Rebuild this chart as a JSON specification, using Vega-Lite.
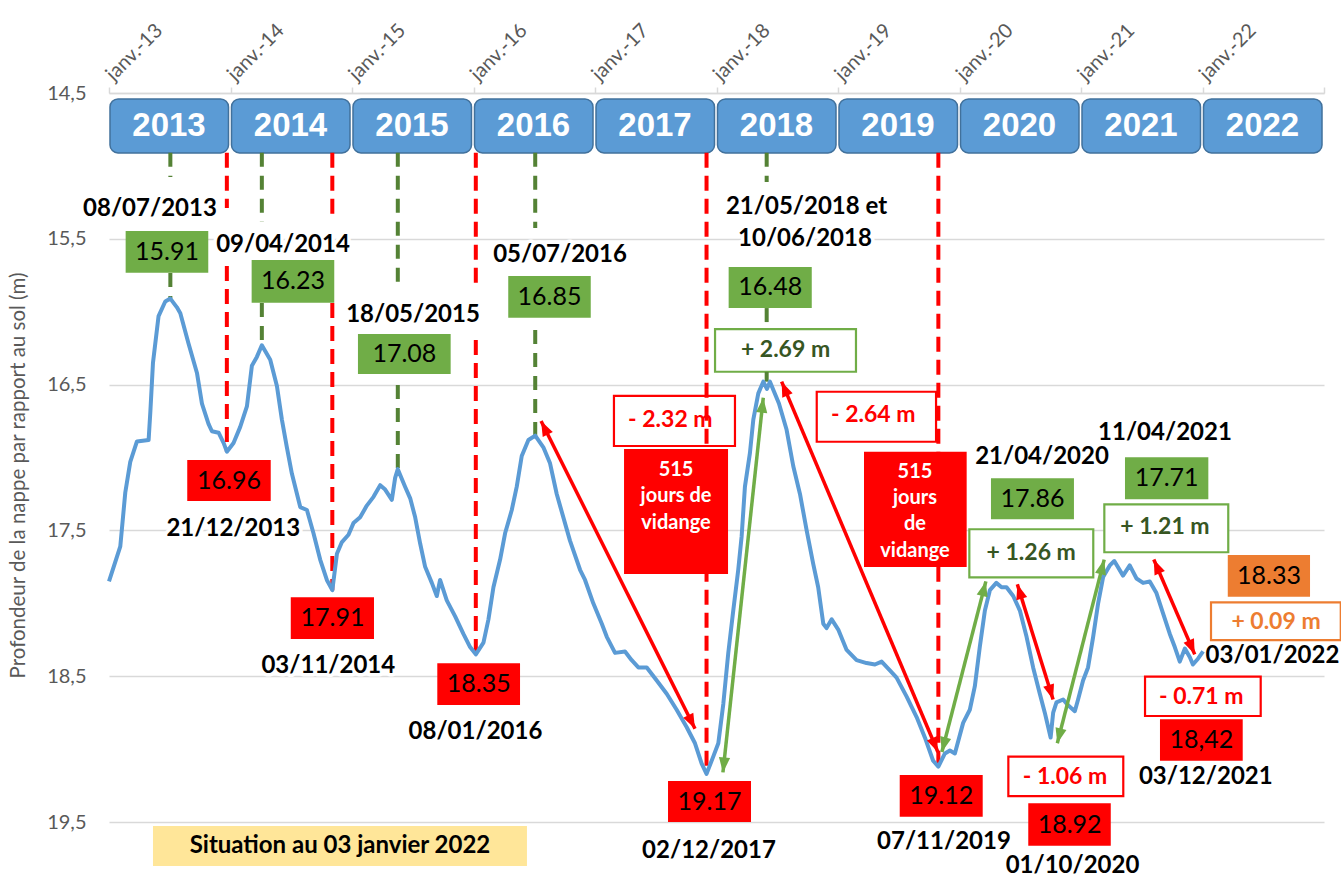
{
  "$schema": "https://vega.github.io/schema/vega-lite/v6.json",
  "width": 1215,
  "height": 729,
  "autosize": "none",
  "padding": {"left": 109, "top": 93, "right": 17, "bottom": 56},
  "background": "white",
  "config": {"view": {"stroke": null}, "font": "Lato"},
  "datasets": {
    "niveau": [
      {"t":2013.000,"d":17.85},{"t":2013.093,"d":17.61},{"t":2013.134,"d":17.24},{"t":2013.175,"d":17.03},{"t":2013.230,"d":16.89},{"t":2013.326,"d":16.88},{"t":2013.340,"d":16.69},{"t":2013.362,"d":16.35},{"t":2013.408,"d":16.03},{"t":2013.463,"d":15.93},{"t":2013.505,"d":15.91},{"t":2013.559,"d":15.97},{"t":2013.587,"d":16.01},{"t":2013.655,"d":16.22},{"t":2013.724,"d":16.42},{"t":2013.765,"d":16.63},{"t":2013.819,"d":16.77},{"t":2013.847,"d":16.82},{"t":2013.902,"d":16.83},{"t":2013.943,"d":16.90},{"t":2013.970,"d":16.96},{"t":2014.025,"d":16.90},{"t":2014.080,"d":16.79},{"t":2014.135,"d":16.65},{"t":2014.176,"d":16.37},{"t":2014.217,"d":16.31},{"t":2014.258,"d":16.23},{"t":2014.327,"d":16.33},{"t":2014.382,"d":16.51},{"t":2014.423,"d":16.74},{"t":2014.464,"d":16.93},{"t":2014.505,"d":17.11},{"t":2014.574,"d":17.34},{"t":2014.629,"d":17.36},{"t":2014.683,"d":17.52},{"t":2014.738,"d":17.70},{"t":2014.793,"d":17.84},{"t":2014.838,"d":17.91},{"t":2014.876,"d":17.66},{"t":2014.917,"d":17.58},{"t":2014.971,"d":17.53},{"t":2015.012,"d":17.45},{"t":2015.067,"d":17.41},{"t":2015.122,"d":17.33},{"t":2015.177,"d":17.27},{"t":2015.232,"d":17.19},{"t":2015.273,"d":17.22},{"t":2015.328,"d":17.29},{"t":2015.355,"d":17.14},{"t":2015.377,"d":17.08},{"t":2015.437,"d":17.20},{"t":2015.479,"d":17.28},{"t":2015.520,"d":17.41},{"t":2015.561,"d":17.59},{"t":2015.602,"d":17.75},{"t":2015.657,"d":17.86},{"t":2015.698,"d":17.95},{"t":2015.725,"d":17.84},{"t":2015.780,"d":17.98},{"t":2015.849,"d":18.09},{"t":2015.917,"d":18.21},{"t":2015.972,"d":18.30},{"t":2016.019,"d":18.35},{"t":2016.082,"d":18.27},{"t":2016.123,"d":18.11},{"t":2016.164,"d":17.89},{"t":2016.219,"d":17.70},{"t":2016.260,"d":17.52},{"t":2016.315,"d":17.36},{"t":2016.356,"d":17.20},{"t":2016.397,"d":16.99},{"t":2016.452,"d":16.88},{"t":2016.508,"d":16.85},{"t":2016.575,"d":16.93},{"t":2016.630,"d":17.04},{"t":2016.685,"d":17.25},{"t":2016.712,"d":17.33},{"t":2016.794,"d":17.57},{"t":2016.877,"d":17.77},{"t":2016.918,"d":17.84},{"t":2016.986,"d":18.00},{"t":2017.056,"d":18.14},{"t":2017.097,"d":18.23},{"t":2017.165,"d":18.34},{"t":2017.247,"d":18.33},{"t":2017.302,"d":18.39},{"t":2017.357,"d":18.44},{"t":2017.426,"d":18.44},{"t":2017.508,"d":18.53},{"t":2017.590,"d":18.62},{"t":2017.672,"d":18.73},{"t":2017.755,"d":18.85},{"t":2017.823,"d":18.96},{"t":2017.878,"d":19.10},{"t":2017.918,"d":19.17},{"t":2017.974,"d":19.05},{"t":2018.015,"d":18.96},{"t":2018.056,"d":18.69},{"t":2018.097,"d":18.34},{"t":2018.138,"d":18.05},{"t":2018.179,"d":17.77},{"t":2018.207,"d":17.54},{"t":2018.234,"d":17.20},{"t":2018.275,"d":16.97},{"t":2018.303,"d":16.74},{"t":2018.344,"d":16.56},{"t":2018.385,"d":16.48},{"t":2018.415,"d":16.53},{"t":2018.440,"d":16.48},{"t":2018.514,"d":16.63},{"t":2018.577,"d":16.81},{"t":2018.632,"d":17.06},{"t":2018.687,"d":17.25},{"t":2018.742,"d":17.50},{"t":2018.796,"d":17.73},{"t":2018.837,"d":17.89},{"t":2018.879,"d":18.14},{"t":2018.906,"d":18.17},{"t":2018.948,"d":18.11},{"t":2019.002,"d":18.18},{"t":2019.071,"d":18.32},{"t":2019.153,"d":18.39},{"t":2019.235,"d":18.41},{"t":2019.304,"d":18.42},{"t":2019.359,"d":18.40},{"t":2019.427,"d":18.46},{"t":2019.482,"d":18.51},{"t":2019.565,"d":18.64},{"t":2019.647,"d":18.78},{"t":2019.715,"d":18.92},{"t":2019.783,"d":19.08},{"t":2019.826,"d":19.12},{"t":2019.880,"d":19.03},{"t":2019.921,"d":19.01},{"t":2019.962,"d":19.03},{"t":2020.030,"d":18.82},{"t":2020.085,"d":18.73},{"t":2020.126,"d":18.57},{"t":2020.167,"d":18.30},{"t":2020.209,"d":18.05},{"t":2020.250,"d":17.91},{"t":2020.303,"d":17.86},{"t":2020.346,"d":17.89},{"t":2020.387,"d":17.89},{"t":2020.442,"d":17.95},{"t":2020.497,"d":18.05},{"t":2020.552,"d":18.23},{"t":2020.606,"d":18.44},{"t":2020.661,"d":18.62},{"t":2020.702,"d":18.75},{"t":2020.750,"d":18.92},{"t":2020.771,"d":18.75},{"t":2020.798,"d":18.68},{"t":2020.853,"d":18.66},{"t":2020.894,"d":18.70},{"t":2020.949,"d":18.74},{"t":2020.976,"d":18.66},{"t":2021.017,"d":18.53},{"t":2021.058,"d":18.44},{"t":2021.100,"d":18.23},{"t":2021.141,"d":18.00},{"t":2021.182,"d":17.82},{"t":2021.237,"d":17.74},{"t":2021.274,"d":17.71},{"t":2021.346,"d":17.81},{"t":2021.401,"d":17.74},{"t":2021.457,"d":17.83},{"t":2021.511,"d":17.86},{"t":2021.566,"d":17.85},{"t":2021.621,"d":17.93},{"t":2021.676,"d":18.07},{"t":2021.731,"d":18.21},{"t":2021.772,"d":18.30},{"t":2021.813,"d":18.40},{"t":2021.855,"d":18.31},{"t":2021.896,"d":18.37},{"t":2021.921,"d":18.42},{"t":2021.963,"d":18.38},{"t":2022.005,"d":18.33}
    ],
    "annees": [
      {"annee":"2013","debut":2013,"fin":2014},{"annee":"2014","debut":2014,"fin":2015},{"annee":"2015","debut":2015,"fin":2016},{"annee":"2016","debut":2016,"fin":2017},{"annee":"2017","debut":2017,"fin":2018},{"annee":"2018","debut":2018,"fin":2019},{"annee":"2019","debut":2019,"fin":2020},{"annee":"2020","debut":2020,"fin":2021},{"annee":"2021","debut":2021,"fin":2022},{"annee":"2022","debut":2022,"fin":2023}
    ],
    "reperes": [
      {"type":"min","t":2013.970,"d1":14.91,"d2":15.289},{"type":"min","t":2013.970,"d1":15.687,"d2":16.96},
      {"type":"min","t":2014.838,"d1":14.91,"d2":15.371},{"type":"min","t":2014.838,"d1":15.94,"d2":17.91},
      {"type":"min","t":2016.019,"d1":14.91,"d2":15.817},{"type":"min","t":2016.019,"d1":16.194,"d2":18.35},
      {"type":"min","t":2017.918,"d1":14.91,"d2":19.17},
      {"type":"min","t":2019.826,"d1":14.91,"d2":19.12},
      {"type":"max","t":2013.505,"d1":14.91,"d2":15.076},{"type":"max","t":2013.505,"d1":15.735,"d2":15.91},
      {"type":"max","t":2014.258,"d1":14.91,"d2":15.385},{"type":"max","t":2014.258,"d1":15.94,"d2":16.23},
      {"type":"max","t":2015.377,"d1":14.91,"d2":15.796},{"type":"max","t":2015.377,"d1":16.503,"d2":17.08},
      {"type":"max","t":2016.508,"d1":14.91,"d2":15.426},{"type":"max","t":2016.508,"d1":16.126,"d2":16.85},
      {"type":"max","t":2018.413,"d1":14.91,"d2":15.11},{"type":"max","t":2018.413,"d1":15.975,"d2":16.119},{"type":"max","t":2018.413,"d1":16.413,"d2":16.48}
    ],
    "valeurs": [
      {"label":"15.91","type":"max","t1":2013.137,"t2":2013.817,"d1":15.447,"d2":15.733,"tc":2013.477,"dc":15.59},
      {"label":"16.23","type":"max","t1":2014.174,"t2":2014.854,"d1":15.645,"d2":15.938,"tc":2014.514,"dc":15.79},
      {"label":"17.08","type":"max","t1":2015.049,"t2":2015.812,"d1":16.153,"d2":16.427,"tc":2015.431,"dc":16.29},
      {"label":"16.85","type":"max","t1":2016.286,"t2":2016.965,"d1":15.755,"d2":16.041,"tc":2016.626,"dc":15.898},
      {"label":"16.48","type":"max","t1":2018.100,"t2":2018.784,"d1":15.693,"d2":15.975,"tc":2018.442,"dc":15.834},
      {"label":"17.86","type":"max","t1":2020.259,"t2":2020.942,"d1":17.143,"d2":17.424,"tc":2020.601,"dc":17.284},
      {"label":"17.71","type":"max","t1":2021.362,"t2":2022.048,"d1":16.999,"d2":17.287,"tc":2021.705,"dc":17.143},
      {"label":"16.96","type":"min","t1":2013.644,"t2":2014.331,"d1":17.017,"d2":17.298,"tc":2013.988,"dc":17.158},
      {"label":"17.91","type":"min","t1":2014.496,"t2":2015.181,"d1":17.959,"d2":18.245,"tc":2014.839,"dc":18.102},
      {"label":"18.35","type":"min","t1":2015.702,"t2":2016.383,"d1":18.411,"d2":18.698,"tc":2016.043,"dc":18.555},
      {"label":"19.17","type":"min","t1":2017.601,"t2":2018.284,"d1":19.219,"d2":19.5,"tc":2017.943,"dc":19.36},
      {"label":"19.12","type":"min","t1":2019.508,"t2":2020.191,"d1":19.178,"d2":19.464,"tc":2019.850,"dc":19.321},
      {"label":"18.92","type":"min","t1":2020.566,"t2":2021.245,"d1":19.372,"d2":19.663,"tc":2020.906,"dc":19.518},
      {"label":"18,42","type":"min","t1":2021.650,"t2":2022.331,"d1":18.796,"d2":19.080,"tc":2021.991,"dc":18.938},
      {"label":"18.33","type":"actuel","t1":2022.208,"t2":2022.885,"d1":17.669,"d2":17.955,"tc":2022.547,"dc":17.812}
    ],
    "ecarts": [
      {"label":"+ 2.69 m","type":"hausse","t1":2017.988,"t2":2019.148,"d1":16.119,"d2":16.412,"tc":2018.568,"dc":16.266},
      {"label":"- 2.32 m","type":"baisse","t1":2017.156,"t2":2018.152,"d1":16.578,"d2":16.921,"tc":2017.62,"dc":16.745},
      {"label":"- 2.64 m","type":"baisse","t1":2018.825,"t2":2019.807,"d1":16.549,"d2":16.892,"tc":2019.29,"dc":16.71},
      {"label":"+ 1.26 m","type":"hausse","t1":2020.081,"t2":2021.101,"d1":17.492,"d2":17.822,"tc":2020.59,"dc":17.655},
      {"label":"+ 1.21 m","type":"hausse","t1":2021.192,"t2":2022.212,"d1":17.321,"d2":17.650,"tc":2021.691,"dc":17.475},
      {"label":"+ 0.09 m","type":"actuel","t1":2022.070,"t2":2023.138,"d1":17.993,"d2":18.252,"tc":2022.605,"dc":18.13},
      {"label":"- 0.71 m","type":"baisse","t1":2021.527,"t2":2022.479,"d1":18.503,"d2":18.773,"tc":2021.99,"dc":18.641},
      {"label":"- 1.06 m","type":"baisse","t1":2020.402,"t2":2021.348,"d1":19.052,"d2":19.322,"tc":2020.868,"dc":19.193}
    ],
    "vidange": [
      {"label":"515\njours de\nvidange","t1":2017.239,"t2":2018.095,"d1":16.942,"d2":17.799,"tc":2017.667,"dc":17.086},
      {"label":"515\njours\nde\nvidange","t1":2019.214,"t2":2020.059,"d1":16.960,"d2":17.751,"tc":2019.634,"dc":17.097}
    ],
    "situation": [
      {"label":"Situation au 03 janvier 2022","t1":2013.362,"t2":2016.440,"d1":19.527,"d2":19.802,"tc":2014.901,"dc":19.665}
    ],
    "dates": [
      {"label":"08/07/2013","t":2013.337,"d":15.296},
      {"label":"09/04/2014","t":2014.432,"d":15.543},
      {"label":"18/05/2015","t":2015.502,"d":16.023},
      {"label":"05/07/2016","t":2016.712,"d":15.611},
      {"label":"21/05/2018 et","t":2018.741,"d":15.282},
      {"label":"10/06/2018","t":2018.728,"d":15.501},
      {"label":"21/04/2020","t":2020.679,"d":16.997},
      {"label":"11/04/2021","t":2021.691,"d":16.832},
      {"label":"21/12/2013","t":2014.023,"d":17.49},
      {"label":"03/11/2014","t":2014.805,"d":18.428},
      {"label":"08/01/2016","t":2016.016,"d":18.883},
      {"label":"02/12/2017","t":2017.938,"d":19.699},
      {"label":"07/11/2019","t":2019.872,"d":19.637},
      {"label":"01/10/2020","t":2020.93,"d":19.802},
      {"label":"03/12/2021","t":2022.027,"d":19.191},
      {"label":"03/01/2022","t":2022.576,"d":18.361}
    ],
    "fleches": [
      {"id":1,"type":"baisse","t1":2016.556,"d1":16.75,"t2":2017.823,"d2":18.86},
      {"id":2,"type":"hausse","t1":2018.053,"d1":19.16,"t2":2018.385,"d2":16.59},
      {"id":3,"type":"baisse","t1":2018.536,"d1":16.48,"t2":2019.822,"d2":19.02},
      {"id":4,"type":"hausse","t1":2019.855,"d1":19.02,"t2":2020.217,"d2":17.85},
      {"id":5,"type":"baisse","t1":2020.476,"d1":17.87,"t2":2020.770,"d2":18.66},
      {"id":6,"type":"hausse","t1":2020.805,"d1":18.96,"t2":2021.191,"d2":17.70},
      {"id":7,"type":"baisse","t1":2021.599,"d1":17.70,"t2":2021.936,"d2":18.35}
    ]
  },
  "layer": [
    {
      "data": {"name": "niveau"},
      "mark": {"type": "line", "color": "#5b9bd5", "strokeWidth": 4, "strokeJoin": "round", "opacity": 0},
      "encoding": {
        "x": {
          "field": "t", "type": "quantitative",
          "scale": {"domain": [2013, 2023], "nice": false, "zero": false},
          "axis": {
            "orient": "top", "values": [2013, 2014, 2015, 2016, 2017, 2018, 2019, 2020, 2021, 2022, 2023],
            "labelExpr": "datum.value < 2023 ? 'janv.-' + format(datum.value - 2000, 'd') : ''",
            "labelAngle": -45, "labelAlign": "left", "labelBaseline": "middle", "labelPadding": 10,
            "labelFontSize": 20, "labelColor": "#595959", "labelOverlap": false, "labelFlush": false, "labelBound": false,
            "tickColor": "#d9d9d9", "tickSize": 6, "tickWidth": 1.5,
            "domainColor": "#d9d9d9", "domainWidth": 1.5, "grid": false, "title": null
          }
        },
        "y": {
          "field": "d", "type": "quantitative",
          "scale": {"domain": [14.5, 19.5], "reverse": true, "nice": false, "zero": false},
          "axis": {
            "values": [14.5, 15.5, 16.5, 17.5, 18.5, 19.5],
            "labelExpr": "replace(format(datum.value, '.1f'), '.', ',')",
            "domain": false, "ticks": false, "grid": true, "gridColor": "#d9d9d9", "gridWidth": 1.5,
            "labelFontSize": 20, "labelColor": "#595959", "labelPadding": 23,
            "title": "Profondeur  de la nappe par rapport au sol (m)",
            "titleFontSize": 20.5, "titleFontWeight": "normal", "titleColor": "#595959",
            "titleX": -91, "titleY": 382, "titleAngle": 270, "titleAlign": "center", "titleBaseline": "middle"
          }
        }
      }
    },
    {
      "data": {"name": "annees"},
      "mark": {"type": "rect", "fill": "#5b9bd5", "stroke": "#41719c", "strokeWidth": 1.5, "cornerRadius": 8, "xOffset": 1, "x2Offset": -2},
      "encoding": {
        "x": {"field": "debut", "type": "quantitative"},
        "x2": {"field": "fin"},
        "y": {"datum": 14.541, "type": "quantitative"},
        "y2": {"datum": 14.911}
      }
    },
    {
      "data": {"name": "annees"},
      "mark": {"type": "text", "font": "Liberation Sans", "fontWeight": "bold", "fontSize": 33, "color": "white", "align": "center", "baseline": "middle", "dx": 60},
      "encoding": {
        "x": {"field": "debut", "type": "quantitative"},
        "y": {"datum": 14.726, "type": "quantitative"},
        "text": {"field": "annee"}
      }
    },
    {
      "data": {"name": "ecarts"},
      "mark": {"type": "rect", "fill": "white", "strokeWidth": 2.2},
      "encoding": {
        "x": {"field": "t1", "type": "quantitative"},
        "x2": {"field": "t2"},
        "y": {"field": "d1", "type": "quantitative"},
        "y2": {"field": "d2"},
        "stroke": {"field": "type", "type": "nominal", "scale": {"domain": ["baisse", "hausse", "actuel"], "range": ["#ff0000", "#70ad47", "#ed7d31"]}, "legend": null}
      }
    },
    {
      "data": {"name": "ecarts"},
      "mark": {"type": "text", "fontWeight": "bold", "fontSize": 23, "align": "center", "baseline": "middle"},
      "encoding": {
        "x": {"field": "tc", "type": "quantitative"},
        "y": {"field": "dc", "type": "quantitative"},
        "text": {"field": "label"},
        "color": {"field": "type", "type": "nominal", "scale": {"domain": ["baisse", "hausse", "actuel"], "range": ["#ff0000", "#375623", "#ed7d31"]}, "legend": null}
      }
    },
    {
      "data": {"name": "reperes"},
      "transform": [{"filter": "datum.type == 'min'"}],
      "mark": {"type": "rule", "color": "#ff0000", "strokeWidth": 4, "strokeDash": [15, 8]},
      "encoding": {
        "x": {"field": "t", "type": "quantitative"},
        "y": {"field": "d1", "type": "quantitative"},
        "y2": {"field": "d2"}
      }
    },
    {
      "data": {"name": "reperes"},
      "transform": [{"filter": "datum.type == 'max'"}],
      "mark": {"type": "rule", "color": "#548235", "strokeWidth": 4, "strokeDash": [14, 9]},
      "encoding": {
        "x": {"field": "t", "type": "quantitative"},
        "y": {"field": "d1", "type": "quantitative"},
        "y2": {"field": "d2"}
      }
    },
    {
      "data": {"name": "niveau"},
      "mark": {"type": "line", "color": "#5b9bd5", "strokeWidth": 4, "strokeJoin": "round"},
      "encoding": {
        "x": {"field": "t", "type": "quantitative"},
        "y": {"field": "d", "type": "quantitative"}
      }
    },
    {
      "data": {"name": "fleches"},
      "transform": [{"filter": "datum.type == 'baisse'"}],
      "mark": {"type": "rule", "color": "#ff0000", "strokeWidth": 3.5},
      "encoding": {
        "x": {"field": "t1", "type": "quantitative"},
        "y": {"field": "d1", "type": "quantitative"},
        "x2": {"field": "t2"},
        "y2": {"field": "d2"}
      }
    },
    {
      "data": {"name": "fleches"},
      "transform": [{"filter": "datum.type == 'hausse'"}],
      "mark": {"type": "rule", "color": "#70ad47", "strokeWidth": 3.5},
      "encoding": {
        "x": {"field": "t1", "type": "quantitative"},
        "y": {"field": "d1", "type": "quantitative"},
        "x2": {"field": "t2"},
        "y2": {"field": "d2"}
      }
    },
    {"data": {"name": "fleches"}, "transform": [{"filter": "datum.id == 1"}], "mark": {"type": "point", "shape": "M0,0L0.375,1L-0.375,1Z", "size": 900, "filled": true, "opacity": 1, "color": "#ff0000", "strokeWidth": 0, "angle": 333.4}, "encoding": {"x": {"field": "t1", "type": "quantitative"}, "y": {"field": "d1", "type": "quantitative"}}},
    {"data": {"name": "fleches"}, "transform": [{"filter": "datum.id == 1"}], "mark": {"type": "point", "shape": "M0,0L0.375,1L-0.375,1Z", "size": 900, "filled": true, "opacity": 1, "color": "#ff0000", "strokeWidth": 0, "angle": 153.4}, "encoding": {"x": {"field": "t2", "type": "quantitative"}, "y": {"field": "d2", "type": "quantitative"}}},
    {"data": {"name": "fleches"}, "transform": [{"filter": "datum.id == 2"}], "mark": {"type": "point", "shape": "M0,0L0.375,1L-0.375,1Z", "size": 900, "filled": true, "opacity": 1, "color": "#70ad47", "strokeWidth": 0, "angle": 186.1}, "encoding": {"x": {"field": "t1", "type": "quantitative"}, "y": {"field": "d1", "type": "quantitative"}}},
    {"data": {"name": "fleches"}, "transform": [{"filter": "datum.id == 2"}], "mark": {"type": "point", "shape": "M0,0L0.375,1L-0.375,1Z", "size": 900, "filled": true, "opacity": 1, "color": "#70ad47", "strokeWidth": 0, "angle": 6.1}, "encoding": {"x": {"field": "t2", "type": "quantitative"}, "y": {"field": "d2", "type": "quantitative"}}},
    {"data": {"name": "fleches"}, "transform": [{"filter": "datum.id == 3"}], "mark": {"type": "point", "shape": "M0,0L0.375,1L-0.375,1Z", "size": 900, "filled": true, "opacity": 1, "color": "#ff0000", "strokeWidth": 0, "angle": 337.1}, "encoding": {"x": {"field": "t1", "type": "quantitative"}, "y": {"field": "d1", "type": "quantitative"}}},
    {"data": {"name": "fleches"}, "transform": [{"filter": "datum.id == 3"}], "mark": {"type": "point", "shape": "M0,0L0.375,1L-0.375,1Z", "size": 900, "filled": true, "opacity": 1, "color": "#ff0000", "strokeWidth": 0, "angle": 157.1}, "encoding": {"x": {"field": "t2", "type": "quantitative"}, "y": {"field": "d2", "type": "quantitative"}}},
    {"data": {"name": "fleches"}, "transform": [{"filter": "datum.id == 4"}], "mark": {"type": "point", "shape": "M0,0L0.375,1L-0.375,1Z", "size": 900, "filled": true, "opacity": 1, "color": "#70ad47", "strokeWidth": 0, "angle": 194.5}, "encoding": {"x": {"field": "t1", "type": "quantitative"}, "y": {"field": "d1", "type": "quantitative"}}},
    {"data": {"name": "fleches"}, "transform": [{"filter": "datum.id == 4"}], "mark": {"type": "point", "shape": "M0,0L0.375,1L-0.375,1Z", "size": 900, "filled": true, "opacity": 1, "color": "#70ad47", "strokeWidth": 0, "angle": 14.5}, "encoding": {"x": {"field": "t2", "type": "quantitative"}, "y": {"field": "d2", "type": "quantitative"}}},
    {"data": {"name": "fleches"}, "transform": [{"filter": "datum.id == 5"}], "mark": {"type": "point", "shape": "M0,0L0.375,1L-0.375,1Z", "size": 900, "filled": true, "opacity": 1, "color": "#ff0000", "strokeWidth": 0, "angle": 342.8}, "encoding": {"x": {"field": "t1", "type": "quantitative"}, "y": {"field": "d1", "type": "quantitative"}}},
    {"data": {"name": "fleches"}, "transform": [{"filter": "datum.id == 5"}], "mark": {"type": "point", "shape": "M0,0L0.375,1L-0.375,1Z", "size": 900, "filled": true, "opacity": 1, "color": "#ff0000", "strokeWidth": 0, "angle": 162.8}, "encoding": {"x": {"field": "t2", "type": "quantitative"}, "y": {"field": "d2", "type": "quantitative"}}},
    {"data": {"name": "fleches"}, "transform": [{"filter": "datum.id == 6"}], "mark": {"type": "point", "shape": "M0,0L0.375,1L-0.375,1Z", "size": 900, "filled": true, "opacity": 1, "color": "#70ad47", "strokeWidth": 0, "angle": 194.3}, "encoding": {"x": {"field": "t1", "type": "quantitative"}, "y": {"field": "d1", "type": "quantitative"}}},
    {"data": {"name": "fleches"}, "transform": [{"filter": "datum.id == 6"}], "mark": {"type": "point", "shape": "M0,0L0.375,1L-0.375,1Z", "size": 900, "filled": true, "opacity": 1, "color": "#70ad47", "strokeWidth": 0, "angle": 14.3}, "encoding": {"x": {"field": "t2", "type": "quantitative"}, "y": {"field": "d2", "type": "quantitative"}}},
    {"data": {"name": "fleches"}, "transform": [{"filter": "datum.id == 7"}], "mark": {"type": "point", "shape": "M0,0L0.375,1L-0.375,1Z", "size": 900, "filled": true, "opacity": 1, "color": "#ff0000", "strokeWidth": 0, "angle": 336.7}, "encoding": {"x": {"field": "t1", "type": "quantitative"}, "y": {"field": "d1", "type": "quantitative"}}},
    {"data": {"name": "fleches"}, "transform": [{"filter": "datum.id == 7"}], "mark": {"type": "point", "shape": "M0,0L0.375,1L-0.375,1Z", "size": 900, "filled": true, "opacity": 1, "color": "#ff0000", "strokeWidth": 0, "angle": 156.7}, "encoding": {"x": {"field": "t2", "type": "quantitative"}, "y": {"field": "d2", "type": "quantitative"}}},
    {
      "data": {"name": "valeurs"},
      "mark": {"type": "rect"},
      "encoding": {
        "x": {"field": "t1", "type": "quantitative"},
        "x2": {"field": "t2"},
        "y": {"field": "d1", "type": "quantitative"},
        "y2": {"field": "d2"},
        "fill": {"field": "type", "type": "nominal", "scale": {"domain": ["max", "min", "actuel"], "range": ["#70ad47", "#ff0000", "#ed7d31"]}, "legend": null}
      }
    },
    {
      "data": {"name": "valeurs"},
      "mark": {"type": "text", "fontSize": 25, "color": "black", "align": "center", "baseline": "middle"},
      "encoding": {
        "x": {"field": "tc", "type": "quantitative"},
        "y": {"field": "dc", "type": "quantitative"},
        "text": {"field": "label"}
      }
    },
    {
      "data": {"name": "vidange"},
      "mark": {"type": "rect", "fill": "#ff0000"},
      "encoding": {
        "x": {"field": "t1", "type": "quantitative"},
        "x2": {"field": "t2"},
        "y": {"field": "d1", "type": "quantitative"},
        "y2": {"field": "d2"}
      }
    },
    {
      "data": {"name": "vidange"},
      "mark": {"type": "text", "fontSize": 20, "fontWeight": "bold", "color": "white", "align": "center", "baseline": "middle", "lineBreak": "\n", "lineHeight": 26.3},
      "encoding": {
        "x": {"field": "tc", "type": "quantitative"},
        "y": {"field": "dc", "type": "quantitative"},
        "text": {"field": "label"}
      }
    },
    {
      "data": {"name": "situation"},
      "mark": {"type": "rect", "fill": "#ffe699"},
      "encoding": {
        "x": {"field": "t1", "type": "quantitative"},
        "x2": {"field": "t2"},
        "y": {"field": "d1", "type": "quantitative"},
        "y2": {"field": "d2"}
      }
    },
    {
      "data": {"name": "situation"},
      "mark": {"type": "text", "fontSize": 24, "fontWeight": "bold", "color": "black", "align": "center", "baseline": "middle"},
      "encoding": {
        "x": {"field": "tc", "type": "quantitative"},
        "y": {"field": "dc", "type": "quantitative"},
        "text": {"field": "label"}
      }
    },
    {
      "data": {"name": "dates"},
      "transform": [{"filter": "datum.label != '03/01/2022'"}],
      "mark": {"type": "text", "fontSize": 24, "fontWeight": "bold", "fill": "white", "stroke": "white", "strokeWidth": 7, "strokeJoin": "round", "align": "center", "baseline": "middle"},
      "encoding": {
        "x": {"field": "t", "type": "quantitative"},
        "y": {"field": "d", "type": "quantitative"},
        "text": {"field": "label"}
      }
    },
    {
      "data": {"name": "dates"},
      "mark": {"type": "text", "fontSize": 24, "fontWeight": "bold", "color": "black", "align": "center", "baseline": "middle"},
      "encoding": {
        "x": {"field": "t", "type": "quantitative"},
        "y": {"field": "d", "type": "quantitative"},
        "text": {"field": "label"}
      }
    }
  ]
}
